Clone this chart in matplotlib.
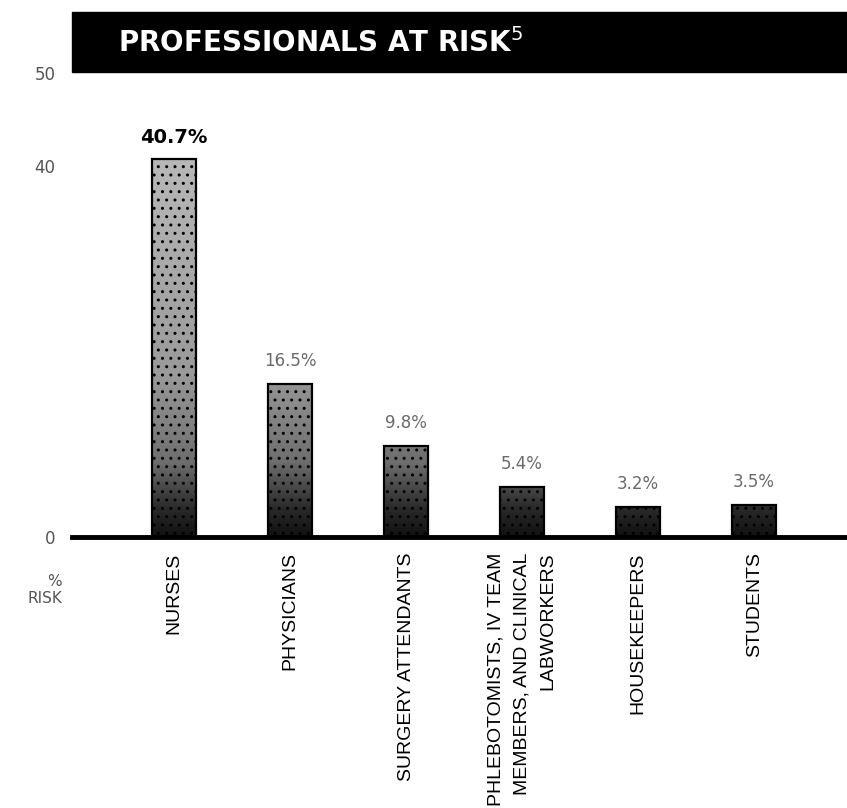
import numpy as np
import matplotlib
matplotlib.use("Agg")
import matplotlib.pyplot as plt
from matplotlib.patches import Rectangle
from matplotlib.colors import LinearSegmentedColormap

categories = [
    "NURSES",
    "PHYSICIANS",
    "SURGERY ATTENDANTS",
    "PHLEBOTOMISTS, IV TEAM\nMEMBERS, AND CLINICAL\nLABWORKERS",
    "HOUSEKEEPERS",
    "STUDENTS",
]
risk = [40.7, 16.5, 9.8, 5.4, 3.2, 3.5]
value_labels = ["40.7%", "16.5%", "9.8%", "5.4%", "3.2%", "3.5%"]
yticks = [0, 40, 50]

W, H = 847, 808
fig = plt.figure(figsize=(W / 100, H / 100), dpi=100)
ax = fig.add_axes([72 / W, 1 - 537 / H, 1 - 72 / W, (537 - 73) / H])

x = np.arange(len(categories))
bars = ax.bar(x, risk, width=0.38, color="none", edgecolor="black",
              linewidth=1.6, zorder=3)

# grainy grey fill, dark near the base
shade = LinearSegmentedColormap.from_list(
    "shade", [(0.0, "#111111"), (0.06, "#2a2a2a"), (0.16, "#6e6e6e"),
              (0.35, "#9a9a9a"), (1.0, "#c4c4c4")])
grad = np.linspace(0, 1, 256).reshape(-1, 1)
for b in bars:
    im = ax.imshow(grad, cmap=shade, origin="lower", aspect="auto",
                   extent=(b.get_x(), b.get_x() + b.get_width(), 0, 50),
                   vmin=0, vmax=1, zorder=2)
    im.set_clip_path(b)
    b.set_hatch("..")

ax.set_xlim(-0.88, 5.8)
ax.set_ylim(0, 50)

for s in ["left", "top", "right"]:
    ax.spines[s].set_visible(False)
ax.spines["bottom"].set_linewidth(3.5)

ax.set_xticks(x, categories, rotation=90, fontsize=14,
              family="Liberation Sans", multialignment="right",
              linespacing=1.7)
ax.set_yticks(yticks, [str(t) for t in yticks], fontsize=12, color="#555555")
ax.tick_params(axis="x", length=0, pad=11)
ax.tick_params(axis="y", length=0, pad=12)

for i, (v, lab) in enumerate(zip(risk, value_labels)):
    if i == 0:
        ax.annotate(lab, (x[i], v), xytext=(0, 9), textcoords="offset points",
                    ha="center", va="bottom", fontsize=14, fontweight="bold",
                    color="black")
    else:
        ax.annotate(lab, (x[i], v), xytext=(0, 10), textcoords="offset points",
                    ha="center", va="bottom", fontsize=12, color="#6a6a6a")

# black title banner
fig.patches.append(Rectangle((72 / W, 1 - 72 / H), 1 - 72 / W, 60 / H,
                             transform=fig.transFigure, color="black",
                             zorder=0))
fig.text(118 / W, 1 - 43 / H, r"PROFESSIONALS AT RISK$^{5}$",
         color="white", fontsize=20, fontweight="bold", va="center",
         ha="left")

fig.text(62 / W, 1 - 590 / H, "%\nRISK", ha="right", va="center",
         fontsize=11, color="#555555", multialignment="right")

fig.savefig("out.png", dpi=100, facecolor="white")
